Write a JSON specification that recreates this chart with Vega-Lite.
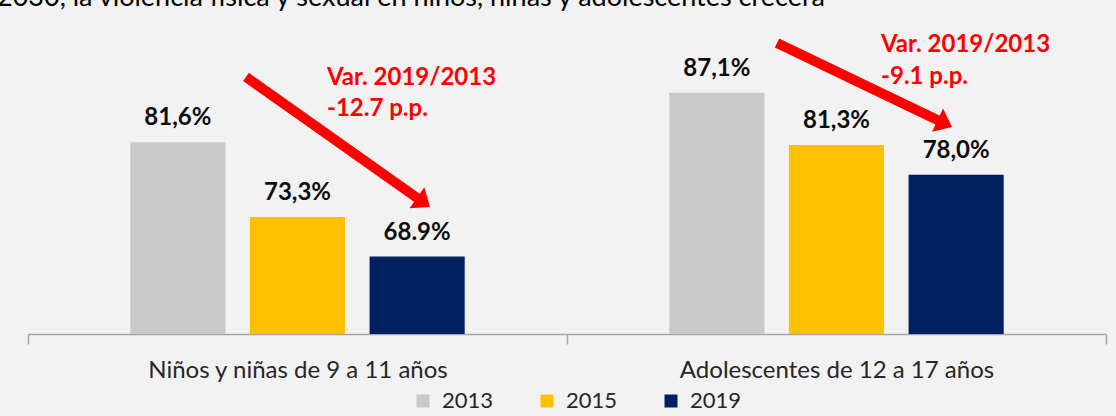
{
  "$schema": "https://vega.github.io/schema/vega-lite/v6.json",
  "width": 1078,
  "height": 310,
  "autosize": {"type": "none"},
  "padding": {"left": 28, "top": 24, "right": 10, "bottom": 82},
  "background": "#f2f2f2",
  "title": {
    "text": "2030, la violencia física y sexual en niños, niñas y adolescentes crecerá",
    "anchor": "start",
    "frame": "group",
    "orient": "top",
    "offset": -9,
    "dx": -31,
    "baseline": "alphabetic",
    "font": "Lato",
    "fontSize": 27,
    "fontWeight": "normal",
    "color": "#000000"
  },
  "datasets": {
    "barras": [
      {"grupo": "Niños y niñas de 9 a 11 años", "anio": "2013", "valor": 81.6, "etiqueta": "81,6%"},
      {"grupo": "Niños y niñas de 9 a 11 años", "anio": "2015", "valor": 73.3, "etiqueta": "73,3%"},
      {"grupo": "Niños y niñas de 9 a 11 años", "anio": "2019", "valor": 68.9, "etiqueta": "68.9%"},
      {"grupo": "Adolescentes de 12 a 17 años", "anio": "2013", "valor": 87.1, "etiqueta": "87,1%"},
      {"grupo": "Adolescentes de 12 a 17 años", "anio": "2015", "valor": 81.3, "etiqueta": "81,3%"},
      {"grupo": "Adolescentes de 12 a 17 años", "anio": "2019", "valor": 78.0, "etiqueta": "78,0%"}
    ],
    "flechas": [
      {"serie": "A", "x": 0.4045, "y": 88.86, "x2": 0.7352, "y2": 74.86},
      {"serie": "B", "x": 1.3896, "y": 92.63, "x2": 1.7026, "y2": 83.63}
    ],
    "notas": [
      {"x": 0.5547, "y": 87.97, "texto": "Var. 2019/2013"},
      {"x": 0.5547, "y": 84.52, "texto": "-12.7 p.p."},
      {"x": 1.5826, "y": 91.63, "texto": "Var. 2019/2013"},
      {"x": 1.5826, "y": 88.08, "texto": "-9.1 p.p."}
    ]
  },
  "layer": [
    {
      "data": {"name": "barras"},
      "encoding": {
        "x": {
          "field": "grupo",
          "type": "nominal",
          "sort": null,
          "scale": {"paddingInner": 0, "paddingOuter": 0},
          "axis": {
            "title": null,
            "labelAngle": 0,
            "labelFont": "Lato",
            "labelFontSize": 24,
            "labelColor": "#262626",
            "labelPadding": 14,
            "labelLimit": 0,
            "tickBand": "extent",
            "tickSize": 10,
            "tickColor": "#a6a6a6",
            "tickWidth": 1.5,
            "domainColor": "#a6a6a6",
            "domainWidth": 1.5,
            "grid": false
          }
        },
        "xOffset": {
          "field": "anio",
          "type": "nominal",
          "scale": {"paddingInner": 0.205, "paddingOuter": 0.855}
        },
        "y": {
          "field": "valor",
          "type": "quantitative",
          "scale": {"domain": [60.3, 94.744], "nice": false, "zero": false},
          "axis": null
        }
      },
      "layer": [
        {
          "mark": {"type": "bar"},
          "encoding": {
            "y2": {"datum": 60.3},
            "color": {
              "field": "anio",
              "type": "nominal",
              "scale": {"domain": ["2013", "2015", "2019"], "range": ["#c9c9c9", "#ffc000", "#002060"]},
              "legend": {
                "title": null,
                "orient": "none",
                "legendX": 384,
                "legendY": 366,
                "direction": "horizontal",
                "symbolType": "square",
                "symbolSize": 169,
                "symbolStrokeWidth": 0,
                "labelFont": "Lato",
                "labelFontSize": 22,
                "labelColor": "#262626",
                "labelOffset": 8,
                "columnPadding": 42,
                "padding": 0
              }
            }
          }
        },
        {
          "mark": {
            "type": "text",
            "baseline": "alphabetic",
            "dy": -17,
            "font": "Lato",
            "fontSize": 24,
            "fontWeight": "bold",
            "color": "#0d0d0d"
          },
          "encoding": {"text": {"field": "etiqueta", "type": "nominal"}}
        }
      ]
    },
    {
      "layer": [
        {
          "data": {"name": "flechas"},
          "mark": {"type": "rule", "color": "#ff0000", "strokeWidth": 10, "strokeCap": "butt"},
          "encoding": {
            "x": {"field": "x", "type": "quantitative", "scale": {"domain": [0, 2], "nice": false, "zero": false}, "axis": null},
            "x2": {"field": "x2"},
            "y": {"field": "y", "type": "quantitative", "scale": {"domain": [60.3, 94.744], "nice": false, "zero": false}, "axis": null},
            "y2": {"field": "y2"}
          }
        },
        {
          "data": {"name": "flechas"},
          "mark": {
            "type": "point",
            "filled": true,
            "color": "#ff0000",
            "opacity": 1,
            "strokeWidth": 0,
            "size": 256,
            "shape": "M-1.125,-1.6L0.875,0L-1.125,1.6Z"
          },
          "encoding": {
            "x": {"field": "x2", "type": "quantitative", "scale": {"domain": [0, 2], "nice": false, "zero": false}, "axis": null},
            "y": {"field": "y2", "type": "quantitative", "scale": {"domain": [60.3, 94.744], "nice": false, "zero": false}, "axis": null},
            "angle": {"condition": {"test": "datum.serie === 'A'", "value": 35.3}, "value": 25.6}
          }
        },
        {
          "data": {"name": "notas"},
          "mark": {
            "type": "text",
            "align": "left",
            "baseline": "alphabetic",
            "font": "Lato",
            "fontSize": 24,
            "fontWeight": "bold",
            "color": "#ff0000"
          },
          "encoding": {
            "x": {"field": "x", "type": "quantitative", "scale": {"domain": [0, 2], "nice": false, "zero": false}, "axis": null},
            "y": {"field": "y", "type": "quantitative", "scale": {"domain": [60.3, 94.744], "nice": false, "zero": false}, "axis": null},
            "text": {"field": "texto", "type": "nominal"}
          }
        }
      ]
    }
  ],
  "resolve": {"scale": {"x": "independent"}},
  "config": {"view": {"stroke": null}}
}
